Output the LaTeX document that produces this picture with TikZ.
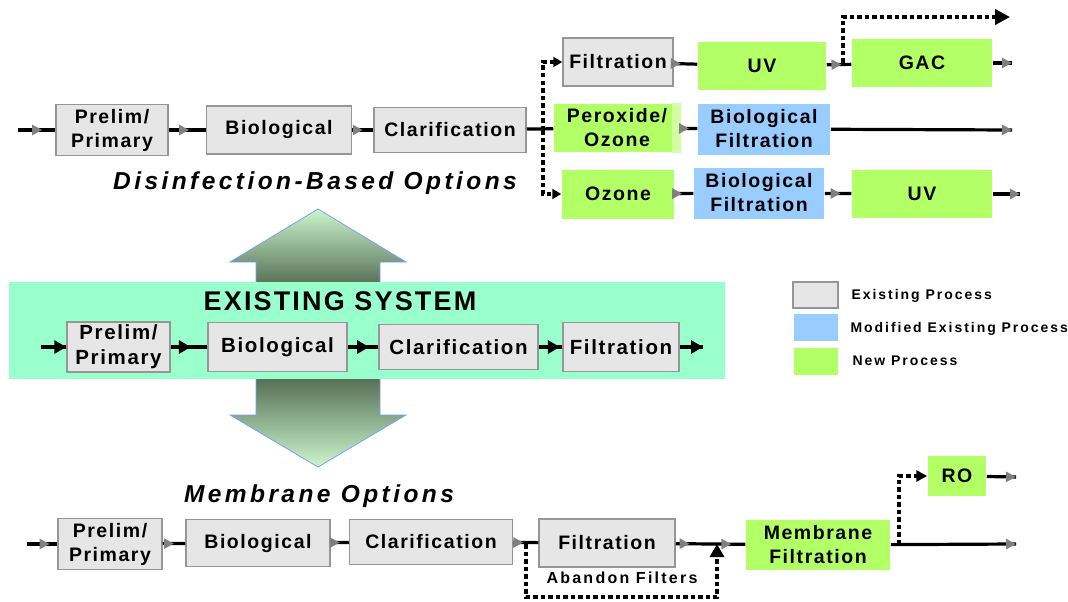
\documentclass[tikz,border=0pt]{standalone}
\usepackage{fontspec}
\newfontfamily\procfont[LetterSpace=8]{Liberation Sans}
\newfontfamily\widefont[LetterSpace=14]{Liberation Sans}
\usetikzlibrary{arrows.meta, decorations.markings, calc}
\definecolor{ExistGray}{RGB}{230,230,230}
\definecolor{EdgeGray}{RGB}{150,150,150}
\definecolor{NewGreen}{RGB}{179,255,102}
\definecolor{PaleGreen}{RGB}{210,255,160}
\definecolor{ModBlue}{RGB}{153,204,255}
\definecolor{BandGreen}{RGB}{153,255,204}
\definecolor{TipGreen}{RGB}{204,245,204}
\definecolor{DarkGreen}{RGB}{78,102,78}
\definecolor{ArrowEdge}{RGB}{120,160,255}
\definecolor{HeadGray}{RGB}{128,128,128}

\begin{document}
\begin{tikzpicture}[x=1pt, y=-1pt,
  oldbox/.style={
    draw=EdgeGray,
    line width=1.5pt,
    fill=ExistGray,
    inner sep=0pt,
    align=center,
    font=\procfont\bfseries\fontsize{19.5}{24}\selectfont
  },
  newbox/.style={oldbox, draw=none, fill=NewGreen},
  modbox/.style={oldbox, draw=none, fill=ModBlue},
  flow/.style={line width=3.2pt,
    postaction={decorate, decoration={markings,
      mark=at position #1 with {\arrow{Triangle[length=10pt, width=10pt, color=HeadGray]}}}}},
  flow/.default=0.5,
  eflow/.style={line width=3.2pt,
    postaction={decorate, decoration={markings,
      mark=at position #1 with {\arrow{Triangle[length=12pt, width=13pt]}}}}},
  eflow/.default=0.5,
  dotflow/.style={line width=4.5pt, dash pattern=on 4.5pt off 3pt},
  title/.style={font=\widefont\bfseries\itshape\fontsize{24.5}{28}\selectfont},
  legtext/.style={anchor=west, font=\widefont\bfseries\fontsize{14}{16}\selectfont}
]
\useasboundingbox (0,0) rectangle (1068,602);

% double arrow behind the existing system
\draw[ArrowEdge, line width=0.8pt, top color=TipGreen, bottom color=DarkGreen]
  (256,290) -- (256,262) -- (230,262) -- (318,209) -- (406,262) -- (380,262) -- (380,290) -- cycle;
\draw[ArrowEdge, line width=0.8pt, top color=DarkGreen, bottom color=TipGreen]
  (256,372) -- (256,415) -- (230,415) -- (318,467) -- (406,415) -- (380,415) -- (380,372) -- cycle;
\fill[BandGreen] (9,282) rectangle (725,379);

% disinfection-based options
\node[oldbox, minimum width=112, minimum height=51] (dPrelim) at (112,130) {Prelim/\\Primary};
\node[oldbox, minimum width=145, minimum height=48] (dBio) at (279,130) {Biological};
\node[oldbox, minimum width=152, minimum height=45] (dClar) at (450,130) {Clarification};
\node[oldbox, minimum width=110, minimum height=48] (dFilt) at (618,62) {Filtration};
\node[newbox, minimum width=128, minimum height=48] (dUV) at (762,66) {UV};
\node[newbox, minimum width=140, minimum height=48] (dGAC) at (922,63) {GAC};
\node[newbox, minimum width=126, minimum height=48] (dPerox) at (617,128) {Peroxide/\\Ozone};
\fill[PaleGreen] ($(dPerox.north east)+(-9,0)$) rectangle (dPerox.south east);
\node[modbox, minimum width=132, minimum height=51] (dBioFilt) at (764,129) {Biological\\Filtration};
\node[newbox, minimum width=112, minimum height=49] (dOzone) at (618,194) {Ozone};
\node[modbox, minimum width=130, minimum height=51] (dBioFilt2) at (759,193) {Biological\\Filtration};
\node[newbox, minimum width=140, minimum height=48] (dUV2) at (922,194) {UV};
\node[title] (dTitle) at (315,183) {Disinfection-Based Options};

\coordinate (dStart) at (18,130);
\coordinate (dSplit) at (543,130);
\coordinate (dEnd1) at (1012,63);
\coordinate (dEnd2) at (1012,130);
\coordinate (dEnd3) at (1020,194);
\coordinate (dUVsplit) at (843,63);
\coordinate (dBypass) at (1010,17);

\draw[flow=0.65] (dStart) -- (dPrelim);
\draw[flow=0.55] (dPrelim) -- (dBio);
\draw[flow=0.5] (dBio) -- (dClar);
\draw[line width=3.2pt] (dClar) -- (dPerox);
\draw[flow=0.5] (dPerox) -- (dBioFilt);
\draw[flow=1] (dBioFilt) -- (dEnd2);
\draw[flow=0.3] (dFilt) -- (dUV);
\draw[flow=0.6] (dUV) -- (dGAC);
\draw[flow=1] (dGAC) -- (dEnd1);
\draw[flow=0.4] (dOzone) -- (dBioFilt2);
\draw[flow=0.6] (dBioFilt2) -- (dUV2);
\draw[flow=1] (dUV2) -- (dEnd3);
\draw[dotflow, -{Triangle[length=9pt, width=10pt]}] (dSplit) |- (dFilt.west);
\draw[dotflow, -{Triangle[length=9pt, width=10pt]}] (dSplit) |- (dOzone.west);
\draw[dotflow, -{Triangle[length=15pt, width=15pt]}] (dUVsplit) |- (dBypass);

% existing system
\node[font=\procfont\bfseries\fontsize{27}{30}\selectfont] (eTitle) at (340,301) {EXISTING SYSTEM};
\node[oldbox, minimum width=103, minimum height=50, font=\procfont\bfseries\fontsize{20.5}{25}\selectfont] (ePrelim) at (118.5,347) {Prelim/\\Primary};
\node[oldbox, minimum width=139, minimum height=49, font=\procfont\bfseries\fontsize{20.5}{25}\selectfont] (eBio) at (277.5,347) {Biological};
\node[oldbox, minimum width=159, minimum height=45, font=\procfont\bfseries\fontsize{20.5}{25}\selectfont] (eClar) at (458.5,347) {Clarification};
\node[oldbox, minimum width=116, minimum height=49, font=\procfont\bfseries\fontsize{20.5}{25}\selectfont] (eFilt) at (621,347) {Filtration};
\coordinate (eStart) at (41,347);
\coordinate (eEnd) at (703,347);
\draw[eflow=1] (eStart) -- (ePrelim);
\draw[eflow=0.55] (ePrelim) -- (eBio);
\draw[eflow=0.7] (eBio) -- (eClar);
\draw[eflow=0.9] (eClar) -- (eFilt);
\draw[eflow=1] (eFilt) -- (eEnd);

% legend
\node[oldbox, minimum width=45, minimum height=26] (lExist) at (815.5,295) {};
\node[modbox, minimum width=44, minimum height=27] (lMod) at (816,327.5) {};
\node[newbox, minimum width=44, minimum height=27] (lNew) at (816,361.5) {};
\node[legtext] at (848,296) {Existing Process};
\node[legtext] at (847,329) {Modified Existing Process};
\node[legtext] at (849,361) {New Process};

% membrane options
\node[title] (bTitle) at (319,496) {Membrane Options};
\node[oldbox, minimum width=104, minimum height=51] (bPrelim) at (110,544) {Prelim/\\Primary};
\node[oldbox, minimum width=144, minimum height=47] (bBio) at (258,543) {Biological};
\node[oldbox, minimum width=163, minimum height=45] (bClar) at (431,542) {Clarification};
\node[oldbox, minimum width=136, minimum height=48] (bFilt) at (607,543) {Filtration};
\node[newbox, minimum width=144, minimum height=50] (bMemb) at (818,545) {Membrane\\Filtration};
\node[newbox, minimum width=58, minimum height=40] (bRO) at (957,476) {RO};
\node[font=\widefont\bfseries\fontsize{16}{18}\selectfont] (bAbandon) at (622,578) {Abandon Filters};

\coordinate (bStart) at (27,544);
\coordinate (bEnd) at (1016,544);
\coordinate (bROEnd) at (1016,477);
\coordinate (bSplit) at (526,544);
\coordinate (bJoin) at (717,544);
\coordinate (bMembSplit) at (899,544);

\draw[flow=0.75] (bStart) -- (bPrelim);
\draw[flow=0.5] (bPrelim) -- (bBio);
\draw[flow=0.5] (bBio) -- (bClar);
\draw[flow=0.4] (bClar) -- (bFilt);
\draw[flow=0.2, flow=0.8] (bFilt) -- (bMemb);
\draw[flow=1] (bMemb) -- (bEnd);
\draw[flow=1] (bRO) -- (bROEnd);
\draw[dotflow, -{Triangle[length=13pt, width=14pt]}] (bSplit) -- ++(0,53) -| (bJoin);
\draw[dotflow, -{Triangle[length=11pt, width=11pt]}] (bMembSplit) |- (bRO.west);
\end{tikzpicture}
\end{document}
